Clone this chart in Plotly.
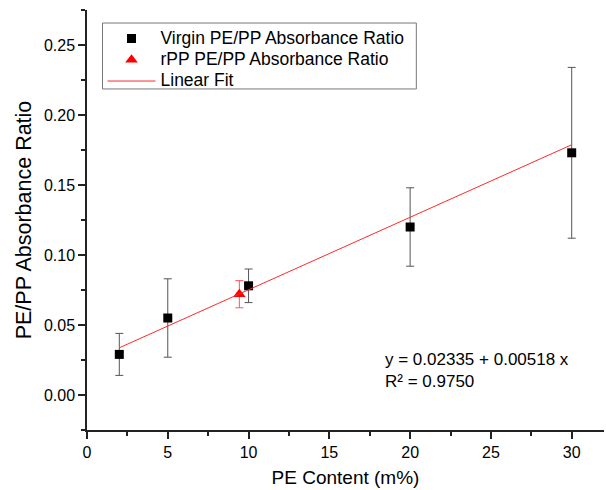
import plotly.graph_objects as go

# Data
virgin_x = [2, 5, 10, 20, 30]
virgin_y = [0.029, 0.055, 0.078, 0.120, 0.173]
virgin_err = [0.015, 0.028, 0.012, 0.028, 0.061]

rpp_x = [9.43]
rpp_y = [0.072]
rpp_err = [0.0097]

fit_intercept = 0.02335
fit_slope = 0.00518
fit_r2 = 0.9750
fit_x = [2, 30]
fit_y = [fit_intercept + fit_slope * v for v in fit_x]

FONT = "Liberation Sans, Arial, sans-serif"


def big(s):
    return f'<span style="font-size:17.5px">{s}</span>'


fig = go.Figure()
fig.add_trace(go.Scatter(
    x=virgin_x, y=virgin_y, mode="markers", name=big("Virgin PE/PP Absorbance Ratio"),
    marker=dict(symbol="square", size=9, color="black"),
    error_y=dict(type="data", array=virgin_err, visible=True, color="#555555",
                 thickness=1, width=4),
))
fig.add_trace(go.Scatter(
    x=rpp_x, y=rpp_y, mode="markers", name=big("rPP PE/PP Absorbance Ratio"),
    marker=dict(symbol="triangle-up", size=11, color="#ff0000"),
    error_y=dict(type="data", array=rpp_err, visible=True, color="#ff5555",
                 thickness=1, width=4),
))
fig.add_trace(go.Scatter(
    x=fit_x, y=fit_y, mode="lines", name=big("Linear Fit"),
    line=dict(color="#ff2a2a", width=1),
))

fig.add_annotation(
    xref="paper", yref="paper", x=0.572, y=0.1405, xanchor="left", yanchor="middle",
    align="left", showarrow=False,
    text=f"y = {fit_intercept:.5f} + {fit_slope:.5f} x<br>R² = {fit_r2:.4f}",
    font=dict(family=FONT, size=17, color="black"),
)

# legend frame
fig.add_shape(
    type="rect", xref="paper", yref="paper",
    x0=0.030, x1=0.637, y0=0.812, y1=0.969,
    line=dict(color="#777777", width=1), fillcolor="white", layer="above",
)

axis_common = dict(
    showline=True, linecolor="#222222", linewidth=1.5, mirror=False,
    showgrid=False, zeroline=False, ticks="outside", ticklen=7, tickwidth=1.5,
    tickcolor="#222222", tickfont=dict(family=FONT, size=16, color="black"),
)

fig.update_xaxes(
    range=[0, 32], dtick=5, tick0=0,
    minor=dict(dtick=2.5, ticks="outside", ticklen=4, tickwidth=1.5, tickcolor="#222222"),
    title=dict(text="PE Content (m%)", font=dict(family=FONT, size=19, color="black"), standoff=11),
    **axis_common,
)
fig.update_yaxes(
    range=[-0.025, 0.275], dtick=0.05, tick0=0, tickformat=".2f",
    minor=dict(dtick=0.025, ticks="outside", ticklen=4, tickwidth=1.5, tickcolor="#222222"),
    title=dict(text="PE/PP Absorbance Ratio", font=dict(family=FONT, size=21.5, color="black"), standoff=6),
    **axis_common,
)

fig.update_layout(
    width=606, height=490,
    margin=dict(l=86.5, r=2, t=10, b=60),
    paper_bgcolor="white", plot_bgcolor="white",
    font=dict(family=FONT, color="black"),
    legend=dict(
        x=0.03, y=0.969, xanchor="left", yanchor="top",
        bgcolor="rgba(0,0,0,0)", borderwidth=0,
        font=dict(family=FONT, size=14, color="black"),
        itemwidth=48, tracegroupgap=0,
    ),
)

fig.write_html("out.html")
